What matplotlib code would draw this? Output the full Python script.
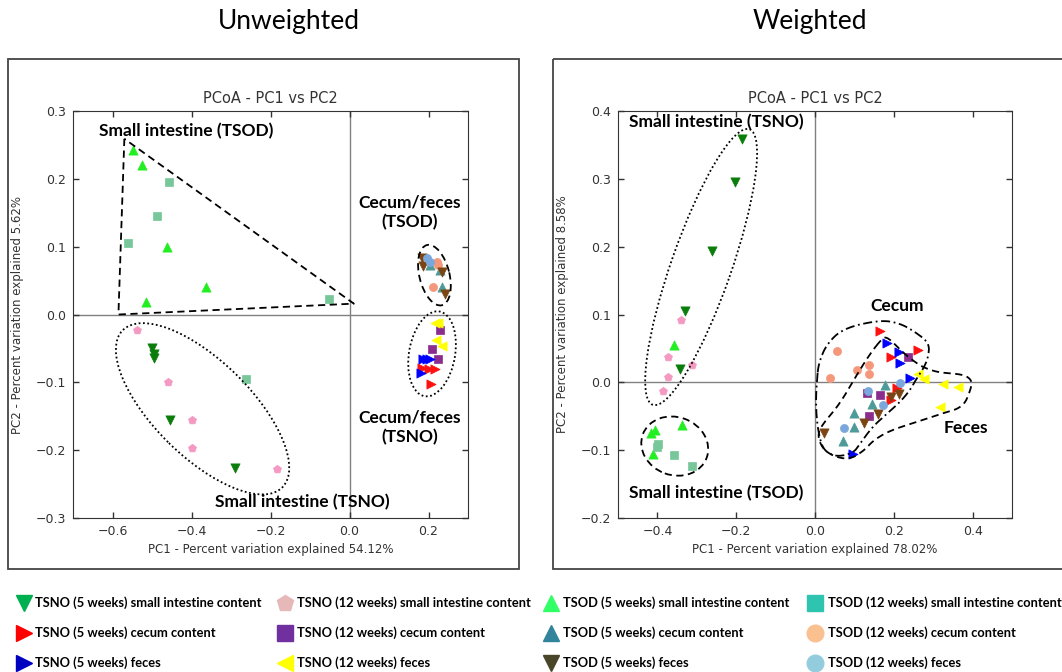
import matplotlib
matplotlib.use("Agg")
import matplotlib.pyplot as plt
import numpy as np
from matplotlib.patches import Ellipse, Rectangle
from matplotlib.transforms import ScaledTranslation

# ---------------- data (PC1, PC2) ----------------
groups = ["TSNO (5 weeks) small intestine content", "TSNO (12 weeks) small intestine content",
          "TSOD (5 weeks) small intestine content", "TSOD (12 weeks) small intestine content",
          "TSNO (5 weeks) cecum content", "TSNO (12 weeks) cecum content",
          "TSOD (5 weeks) cecum content", "TSOD (12 weeks) cecum content",
          "TSNO (5 weeks) feces", "TSNO (12 weeks) feces",
          "TSOD (5 weeks) feces", "TSOD (12 weeks) feces"]
markers = ["v", "p", "^", "s", ">", "s", "^", "o", ">", "<", "v", "o"]
plot_colors = ["#0b7d0b", "#f49ac2", "#22ee22", "#77c79a", "#ff1010", "#8b2d8e",
               "#4e9a98", "#f4977a", "#0000ff", "#ffff00", "#7b4513", "#7aa7dc"]
legend_colors = ["#00b050", "#e6b9b8", "#33ff66", "#2ec4b0", "#ff0000", "#7030a0",
                 "#31849b", "#fac090", "#0000c0", "#ffff00", "#494529", "#93cddd"]

# unweighted UniFrac
unw_x = [
    [-0.500, -0.494, -0.496, -0.454, -0.289],
    [-0.538, -0.459, -0.399, -0.399, -0.184],
    [-0.548, -0.526, -0.462, -0.364, -0.515],
    [-0.458, -0.487, -0.562, -0.051, -0.263],
    [0.183, 0.200, 0.217, 0.206],
    [0.230, 0.209, 0.225],
    [0.204, 0.230, 0.234],
    [0.221, 0.223, 0.211],
    [0.187, 0.204, 0.181, 0.195],
    [0.217, 0.225, 0.219, 0.234],
    [0.183, 0.186, 0.235, 0.241],
    [0.196, 0.204],
]
unw_y = [
    [-0.049, -0.058, -0.064, -0.155, -0.227],
    [-0.023, -0.099, -0.155, -0.197, -0.228],
    [0.242, 0.220, 0.099, 0.041, 0.018],
    [0.196, 0.145, 0.106, 0.023, -0.095],
    [-0.079, -0.081, -0.081, -0.102],
    [-0.023, -0.051, -0.065],
    [0.073, 0.066, 0.041],
    [0.078, 0.073, 0.040],
    [-0.065, -0.065, -0.086, -0.066],
    [-0.012, -0.013, -0.037, -0.047],
    [0.083, 0.072, 0.063, 0.030],
    [0.083, 0.078],
]

# weighted UniFrac
w_x = [
    [-0.185, -0.202, -0.261, -0.329, -0.343],
    [-0.339, -0.373, -0.372, -0.311, -0.386],
    [-0.358, -0.415, -0.405, -0.411, -0.337],
    [-0.402, -0.398, -0.357, -0.311],
    [0.164, 0.193, 0.261, 0.208, 0.193],
    [0.235, 0.132, 0.164, 0.136],
    [0.178, 0.145, 0.098, 0.098, 0.070],
    [0.056, 0.039, 0.107, 0.136, 0.136],
    [0.184, 0.212, 0.216, 0.242, 0.096],
    [0.261, 0.277, 0.326, 0.362, 0.316],
    [0.194, 0.214, 0.160, 0.125, 0.024],
    [0.134, 0.216, 0.172, 0.073],
]
w_y = [
    [0.359, 0.296, 0.194, 0.105, 0.019],
    [0.092, 0.038, 0.008, 0.025, -0.013],
    [0.055, -0.075, -0.071, -0.106, -0.063],
    [-0.096, -0.091, -0.107, -0.124],
    [0.075, 0.038, 0.048, -0.008, -0.026],
    [0.038, -0.016, -0.019, -0.049],
    [-0.004, -0.032, -0.045, -0.066, -0.087],
    [0.046, 0.006, 0.018, 0.026, 0.013],
    [0.058, 0.044, 0.029, 0.006, -0.106],
    [0.012, 0.005, -0.003, -0.007, -0.036],
    [-0.022, -0.017, -0.047, -0.060, -0.075],
    [-0.013, -0.001, -0.033, -0.068],
]

W, H = 1062, 672
fig = plt.figure(figsize=(W / 100, H / 100), dpi=100, facecolor="white")
bold_font = "Lato"
marker_size = {"v": 44, "^": 44, ">": 44, "<": 44, "p": 36, "s": 26, "o": 34}


def make_axes(box, xlim, ylim, xticks, yticks, ylabel, xlabel):
    # box is (left, top, right, bottom) in pixels
    l, t, r, b = box
    ax = fig.add_axes([l / W, 1 - b / H, (r - l) / W, (b - t) / H])
    ax.set_xlim(xlim)
    ax.set_ylim(ylim)
    ax.set_xticks(xticks)
    ax.set_yticks(yticks)
    ax.axhline(0, color="#808080", lw=1.0, zorder=1)
    ax.axvline(0, color="#808080", lw=1.0, zorder=1)
    ax.tick_params(direction="in", top=True, right=True, length=4, width=1,
                   labelsize=9, colors="#333333", pad=5)
    for s in ax.spines.values():
        s.set_color("#333333")
    ax.set_title("PCoA - PC1 vs PC2", fontsize=10.5, color="#333333", pad=6)
    ax.set_xlabel(xlabel, fontsize=8.5, color="#333333")
    ax.set_ylabel(ylabel, fontsize=8.5, color="#333333")
    ax.xaxis.set_label_coords(0.5, -0.062)
    ax.yaxis.set_label_coords(-0.125, 0.5)
    return ax


def draw_points(ax, xs, ys):
    for i in range(len(groups)):
        ax.scatter(xs[i], ys[i], marker=markers[i], s=marker_size[markers[i]],
                   color=plot_colors[i], edgecolors=plot_colors[i], linewidths=0.5, zorder=3)


def pix_ellipse(ax, center, a, b, angle, ls):
    # ellipse sized in pixels, placed at a data point
    tr = fig.dpi_scale_trans + ScaledTranslation(center[0], center[1], ax.transData)
    e = Ellipse((0, 0), 2 * a / 100, 2 * b / 100, angle=angle, transform=tr,
                fill=False, ec="black", lw=1.3, ls=ls, zorder=4)
    ax.add_patch(e)


def smooth_outline(pts, n=4):
    p = np.array(pts, dtype=float)
    for _ in range(n):
        q = np.roll(p, -1, axis=0)
        p = np.column_stack([0.75 * p + 0.25 * q, 0.25 * p + 0.75 * q]).reshape(-1, 2)
    return np.vstack([p, p[:1]])


dotted = (0, (1, 1.4))
dashed = (0, (4, 2.5))
dashdot = (0, (5, 2, 1, 2))

# ---------------- unweighted ----------------
ax1 = make_axes((73, 111, 468, 518), (-0.7, 0.3), (-0.3, 0.3),
                [-0.6, -0.4, -0.2, 0.0, 0.2], np.arange(-0.3, 0.31, 0.1),
                "PC2 - Percent variation explained 5.62%",
                "PC1 - Percent variation explained 54.12%")
draw_points(ax1, unw_x, unw_y)
tri = np.array([(-0.570, 0.259), (-0.585, 0.0), (0.011, 0.016), (-0.570, 0.259)])
ax1.plot(tri[:, 0], tri[:, 1], color="black", lw=1.3, ls=dashed, zorder=4)
pix_ellipse(ax1, (-0.372, -0.139), 112, 48, -44.5, dotted)
pix_ellipse(ax1, (0.215, 0.058), 31, 15, 104, dashed)
pix_ellipse(ax1, (0.209, -0.058), 43, 23, 80, dotted)
lab = dict(fontsize=12.5, fontweight="bold", family=bold_font, color="black", zorder=5)
ax1.text(-0.633, 0.271, "Small intestine (TSOD)", ha="left", va="center", **lab)
ax1.text(0.152, 0.151, "Cecum/feces\n(TSOD)", ha="center", va="center", linespacing=1.25, **lab)
ax1.text(0.152, -0.167, "Cecum/feces\n(TSNO)", ha="center", va="center", linespacing=1.25, **lab)
ax1.text(-0.340, -0.277, "Small intestine (TSNO)", ha="left", va="center", **lab)

# ---------------- weighted ----------------
ax2 = make_axes((618, 111, 1012, 518), (-0.5, 0.5), (-0.2, 0.4),
                [-0.4, -0.2, 0.0, 0.2, 0.4], np.arange(-0.2, 0.41, 0.1),
                "PC2 - Percent variation explained 8.58%",
                "PC1 - Percent variation explained 78.02%")
draw_points(ax2, w_x, w_y)
pix_ellipse(ax2, (-0.289, 0.170), 146, 30, 70.7, dotted)
pix_ellipse(ax2, (-0.356, -0.094), 34, 29, -20, dashed)
cecum_outline = [(0.005, 0.003), (0.009, 0.028), (0.03, 0.057), (0.073, 0.080), (0.166, 0.092),
                 (0.216, 0.087), (0.255, 0.074), (0.290, 0.058), (0.288, 0.038), (0.276, 0.021),
                 (0.255, 0.003), (0.242, -0.011), (0.216, -0.029), (0.183, -0.046), (0.145, -0.066),
                 (0.115, -0.090), (0.098, -0.104), (0.056, -0.110), (0.026, -0.102), (0.014, -0.088),
                 (0.005, -0.060), (0.002, -0.027)]
feces_outline = [(0.173, 0.066), (0.147, 0.048), (0.113, 0.018), (0.063, -0.032), (0.020, -0.061),
                 (0.006, -0.077), (0.018, -0.097), (0.046, -0.109), (0.088, -0.114), (0.126, -0.100),
                 (0.147, -0.086), (0.190, -0.071), (0.266, -0.057), (0.316, -0.047), (0.376, -0.037),
                 (0.395, -0.011), (0.399, 0.003), (0.376, 0.012), (0.316, 0.014), (0.274, 0.022),
                 (0.249, 0.032), (0.223, 0.044), (0.198, 0.059), (0.183, 0.066)]
for outline, ls in [(cecum_outline, dashdot), (feces_outline, dashed)]:
    sm = smooth_outline(outline)
    ax2.plot(sm[:, 0], sm[:, 1], color="black", lw=1.3, ls=ls, zorder=4)
ax2.text(-0.472, 0.384, "Small intestine (TSNO)", ha="left", va="center", **lab)
ax2.text(0.208, 0.112, "Cecum", ha="center", va="center", **lab)
ax2.text(0.384, -0.067, "Feces", ha="center", va="center", **lab)
ax2.text(-0.472, -0.163, "Small intestine (TSOD)", ha="left", va="center", **lab)

# ---------------- overlay: frames, panel titles, legend ----------------
ov = fig.add_axes([0, 0, 1, 1])
ov.set_xlim(0, W)
ov.set_ylim(H, 0)
ov.axis("off")
ov.add_patch(Rectangle((8, 59), 511, 510, fill=False, ec="#444444", lw=1.3))
ov.add_patch(Rectangle((553, 59), 520, 510, fill=False, ec="#444444", lw=1.3))
ov.text(289, 21, "Unweighted", ha="center", va="center", fontsize=19, family=bold_font)
ov.text(810, 21, "Weighted", ha="center", va="center", fontsize=19, family=bold_font)

col_marker_x = [24, 285, 551, 815]
col_text_x = [35, 297, 563, 828]
row_y = [603, 633, 663]
for i in range(len(groups)):
    r, c = i // 4, i % 4
    ov.plot(col_marker_x[c], row_y[r], marker=markers[i], ms=12, color=legend_colors[i],
            mec=legend_colors[i], ls="none")
    ov.text(col_text_x[c], row_y[r], groups[i], ha="left", va="center", fontsize=9.3,
            fontweight="bold", family=bold_font)

fig.savefig("out.png", dpi=100, facecolor="white")
